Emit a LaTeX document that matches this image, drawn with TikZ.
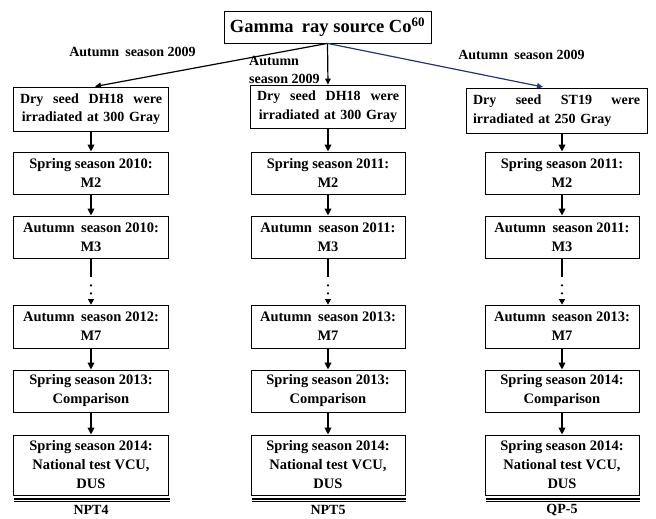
\documentclass[tikz,border=0pt]{standalone}
\usepackage{fontspec}
\setmainfont{Liberation Serif}
\usetikzlibrary{arrows.meta,calc}
\definecolor{navy}{RGB}{35,55,120}
\newcommand\dsp{\hspace{0.45em}}
\tikzset{
  box/.style={draw, line width=0.8pt, fill=white, align=center, inner sep=0pt,
    font=\bfseries\fontsize{14.5}{19}\selectfont},
  seedbox/.style={box, font=\bfseries\fontsize{14}{18.5}\selectfont},
  lbl/.style={font=\bfseries\fontsize{14}{18}\selectfont, inner sep=0pt},
  flow/.style={line width=1.9pt, -{Triangle[length=7pt,width=6.5pt]}},
  src/.style={line width=1.2pt, -{Triangle[length=6pt,width=5.5pt]}},
  rule/.style={line width=1.6pt},
  thinrule/.style={line width=0.9pt}
}
\begin{document}
\begin{tikzpicture}[x=1pt,y=-1pt]
\useasboundingbox (0,0) rectangle (656,519);
% top
\node[box, minimum width=207pt, minimum height=32pt, font=\bfseries\fontsize{18.5}{22}\selectfont] (top) at (327.5,27) {Gamma\dsp ray source Co\textsuperscript{60}};
% first row
\node[seedbox, minimum width=155pt, minimum height=44pt, text width=142pt] (l1) at (91,109) {Dry\hfill seed\hfill DH18\hfill were\\\mbox{irradiated at 300 Gray}};
\node[seedbox, minimum width=155pt, minimum height=43pt, text width=142pt] (m1) at (328,106.5) {Dry\hfill seed\hfill DH18\hfill were\\\mbox{irradiated at 300 Gray}};
\node[seedbox, minimum width=181pt, minimum height=45pt, text width=167pt] (r1) at (556.5,110.5) {Dry\hfill seed\hfill ST19\hfill were\\\mbox{irradiated at 250 Gray}\hfill\null};
% source arrows
\draw[src] (top.south) -- (95,86.5);
\draw[src] (top.south) -- (m1.north);
\draw[src, navy] (top.south) -- (543,87);
\node[lbl] (la) at (132.5,52) {Autumn\dsp season 2009};
\node[lbl, anchor=west, align=left] (ma) at (249,70) {Autumn\\season 2009};
\node[lbl] (ra) at (521.5,55) {Autumn\dsp season 2009};
% columns
\foreach \c/\x/\w/\sa/\sb/\aa/\ab/\spb/\spc in
  {l/91/155/2010/2010/2012/2013/2014/NPT4,
   m/328/154/2011/2011/2013/2013/2014/NPT5,
   r/562/154/2011/2011/2013/2014/2014/QP-5}{
  \node[box, minimum width=\w pt, minimum height=42pt] (\c2) at (\x,173) {Spring season \sa:\\M2};
  \node[box, minimum width=\w pt, minimum height=42pt] (\c3) at (\x,237) {Autumn\dsp season \sb:\\M3};
  \node[box, minimum width=\w pt, minimum height=43pt] (\c4) at (\x,326.5) {Autumn\dsp season \aa:\\M7};
  \node[box, minimum width=\w pt, minimum height=42pt] (\c5) at (\x,391) {Spring season \ab:\\Comparison};
  \node[box, minimum width=\w pt, minimum height=60pt] (\c6) at (\x,465) {Spring season \spb:\\National test VCU,\\DUS};
  \node[lbl] (\c7) at (\x,510) {\spc};
  \draw[flow] (\c1.south -| \c2.north) -- (\c2.north);
  \draw[flow] (\c2) -- (\c3);
  \draw[line width=2.2pt] (\c3.south) -- ++(0,19) coordinate (\c d);
  \fill ($(\c d)+(0,8)$) circle (1.2pt);
  \fill ($(\c d)+(0,16)$) circle (1.2pt);
  \draw[line width=1pt, -{Triangle[length=5.5pt,width=6pt]}] ($(\c4.north)+(0,-6)$) -- (\c4.north);
  \draw[flow] (\c4) -- (\c5);
  \draw[flow] (\c5) -- (\c6);
  \draw[rule] ($(\c6.south west)+(1,3.5)$) -- ($(\c6.south east)+(1,3.5)$);
  \draw[thinrule] ($(\c6.south west)+(1,6.5)$) -- ($(\c6.south east)+(1,6.5)$);
}
\end{tikzpicture}
\end{document}
